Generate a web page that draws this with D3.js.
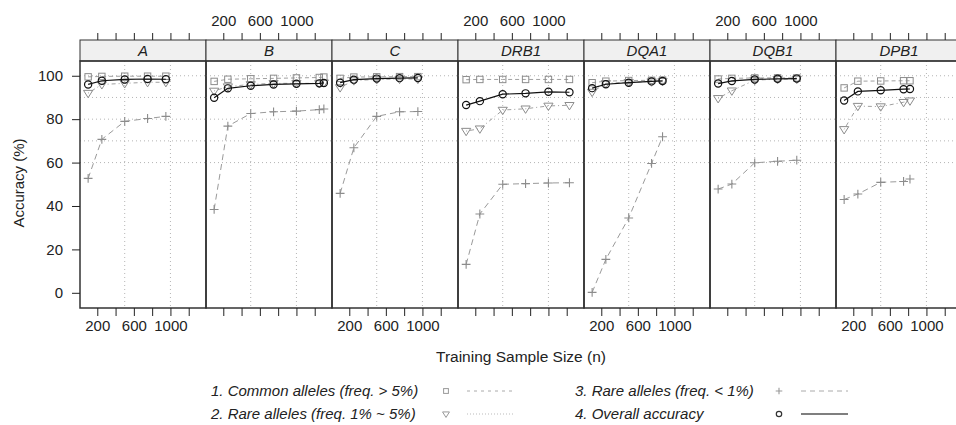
<!DOCTYPE html>
<html>
<head>
<script type="text/javascript" src="https://cdn.jsdelivr.net/npm/d3@7/dist/d3.min.js"></script>
<style>
  body { margin: 0; background: #fff; }
  text { font-family: "Liberation Sans", Arial, sans-serif; fill: #222; }
</style>
</head>
<body>
<script type="text/javascript">
// HLA loci, one panel each
var loci = ["A", "B", "C", "DRB1", "DQA1", "DQB1", "DPB1"];

// training sample sizes per locus
var sampleSize = [
  [100, 250, 500, 750, 950],
  [100, 250, 500, 750, 1000, 1250, 1300],
  [100, 250, 500, 750, 950],
  [100, 250, 500, 750, 1000, 1230],
  [100, 250, 500, 750, 870],
  [100, 250, 500, 750, 960],
  [100, 250, 500, 750, 820]
];

// 1. common alleles (freq > 5%)
var commonAlleles = [
  [99.5, 99.7, 99.8, 99.8, 99.8],
  [97.4, 98.4, 98.6, 98.8, 99.0, 99.2, 99.4],
  [98.8, 99.4, 99.5, 99.6, 99.6],
  [98.2, 98.3, 98.3, 98.3, 98.3, 98.3],
  [96.8, 97.5, 97.8, 97.9, 98.0],
  [98.5, 98.8, 99.0, 99.0, 99.0],
  [94.4, 97.5, 97.6, 97.7, 97.7]
];

// 2. rare alleles (freq 1% ~ 5%)
var rareAlleles = [
  [92.0, 96.0, 96.5, 97.0, 97.0],
  [93.0, 95.0, 96.0, 96.5, 96.5, 96.5, 96.8],
  [94.6, 97.8, 98.3, 98.5, 98.5],
  [74.5, 75.6, 84.2, 84.8, 86.1, 86.4],
  [92.5, 96.5, 97.0, 97.3, 97.5],
  [89.6, 93.1, 98.0, 98.4, 98.5],
  [75.3, 86.0, 85.8, 87.8, 88.5]
];

// 3. rare alleles (freq < 1%)
var veryRareAlleles = [
  [52.7, 70.7, 79.0, 80.3, 81.3],
  [38.4, 76.8, 82.6, 83.4, 83.7, 84.4, 84.7],
  [45.8, 66.8, 81.3, 83.4, 83.5],
  [13.1, 36.3, 50.0, 50.3, 50.6, 50.7],
  [0.2, 15.4, 34.5, 59.6, 71.9],
  [47.8, 50.1, 59.9, 60.6, 61.1],
  [43.0, 45.5, 50.9, 51.3, 52.4]
];

// 4. overall accuracy
var overallAccuracy = [
  [96.0, 97.7, 98.3, 98.5, 98.4],
  [89.9, 94.2, 95.4, 96.0, 96.3, 96.5, 96.7],
  [96.8, 98.2, 98.7, 98.9, 99.0],
  [86.5, 88.3, 91.5, 91.9, 92.6, 92.4],
  [94.3, 96.1, 96.8, 97.4, 97.6],
  [96.4, 97.6, 98.3, 98.6, 98.7],
  [88.6, 92.8, 93.3, 93.8, 93.9]
];

var xTicks = [200, 400, 600, 800, 1000, 1200];
var xTickLabels = [200, 600, 1000];
var yTicks = [0, 20, 40, 60, 80, 100];
var xGrid = [500, 1000];
var yGrid = [60, 70, 80, 90, 100];

var legendLabels = [
  "1. Common alleles (freq. > 5%)",
  "2. Rare alleles (freq. 1% ~ 5%)",
  "3. Rare alleles (freq. < 1%)",
  "4. Overall accuracy"
];

function myFunction() {
  var width = 956, height = 425;
  var panelLeft = 80, panelWidth = 126;
  var stripTop = 40, stripBottom = 61, panelBottom = 308;
  var grey = "#8c8c8c";

  var svg = d3.select("body").append("svg")
    .attr("width", width)
    .attr("height", height)
    .attr("id", "chart");

  var y = d3.scaleLinear().domain([-7, 106.8]).range([panelBottom, stripBottom]);

  var series = [
    { values: commonAlleles, symbol: "square", dash: "4,3", color: grey, lineColor: "#a0a0a0", width: 1 },
    { values: rareAlleles, symbol: "triangle", dash: "1,3,4,3", color: grey, lineColor: "#a0a0a0", width: 1 },
    { values: veryRareAlleles, symbol: "plus", dash: "6,4", color: grey, lineColor: "#9a9a9a", width: 1 },
    { values: overallAccuracy, symbol: "circle", dash: null, color: "#111", lineColor: "#111", width: 1.2 }
  ];

  loci.forEach(function (locus, i) {
    var left = panelLeft + panelWidth * i;
    var x = d3.scaleLinear().domain([11, 1389]).range([left, left + panelWidth]);
    var g = svg.append("g").attr("class", "panel");

    // grid
    xGrid.forEach(function (v) {
      g.append("line").attr("x1", x(v)).attr("x2", x(v))
        .attr("y1", stripBottom).attr("y2", panelBottom)
        .attr("style", "stroke:#b5b5b5;stroke-width:1;stroke-dasharray:1,3");
    });
    yGrid.forEach(function (v) {
      g.append("line").attr("x1", left).attr("x2", left + panelWidth)
        .attr("y1", y(v)).attr("y2", y(v))
        .attr("style", "stroke:#b5b5b5;stroke-width:1;stroke-dasharray:1,3");
    });

    // series lines + symbols
    series.forEach(function (s) {
      var pts = sampleSize[i].map(function (n, k) { return [n, s.values[i][k]]; });
      var line = d3.line().x(function (d) { return x(d[0]); }).y(function (d) { return y(d[1]); });
      g.append("path").attr("d", line(pts))
        .attr("fill", "none").attr("stroke", s.lineColor)
        .attr("stroke-width", s.width)
        .attr("stroke-dasharray", s.dash);
      pts.forEach(function (d) {
        addSymbol(g, s.symbol, x(d[0]), y(d[1]), s.color);
      });
    });

    // strip
    g.append("rect").attr("x", left).attr("y", stripTop)
      .attr("width", panelWidth).attr("height", stripBottom - stripTop)
      .attr("style", "fill:#f0f0f0;stroke:#333;stroke-width:1");
    g.append("text").attr("x", left + panelWidth / 2).attr("y", stripBottom - 5)
      .attr("text-anchor", "middle").attr("font-style", "italic")
      .attr("font-size", "15px").text(locus);

    // panel box
    g.append("rect").attr("x", left).attr("y", stripBottom)
      .attr("width", panelWidth).attr("height", panelBottom - stripBottom)
      .attr("style", "fill:none;stroke:#333;stroke-width:1.5");

    // x axes: labels alternate bottom / top
    var labelBottom = (i % 2 === 0);
    var fmt = function (on) {
      return function (d) { return on && xTickLabels.indexOf(d) >= 0 ? d : ""; };
    };
    var bottom = svg.append("g").attr("transform", "translate(0," + panelBottom + ")")
      .call(d3.axisBottom(x).tickValues(xTicks).tickSize(8).tickPadding(4).tickFormat(fmt(labelBottom)));
    var top = svg.append("g").attr("transform", "translate(0," + stripTop + ")")
      .call(d3.axisTop(x).tickValues(xTicks).tickSize(7).tickPadding(7).tickFormat(fmt(!labelBottom)));
    [bottom, top].forEach(function (a) {
      a.select(".domain").remove();
      a.selectAll("line").attr("stroke", "#222");
      a.selectAll("text").attr("font-size", "15px").attr("fill", "#222")
        .attr("font-family", "Liberation Sans, Arial, sans-serif");
    });
  });

  // y axis
  var ya = svg.append("g").attr("transform", "translate(" + panelLeft + ",0)")
    .call(d3.axisLeft(y).tickValues(yTicks).tickSize(8).tickPadding(9));
  ya.select(".domain").remove();
  ya.selectAll("line").attr("stroke", "#222");
  ya.selectAll("text").attr("font-size", "15px").attr("fill", "#222")
    .attr("font-family", "Liberation Sans, Arial, sans-serif");

  // axis titles
  svg.append("text").attr("x", 521).attr("y", 362)
    .attr("text-anchor", "middle").attr("font-size", "15.5px")
    .text("Training Sample Size (n)");
  svg.append("text").attr("transform", "translate(24,183) rotate(-90)")
    .attr("text-anchor", "middle").attr("font-size", "15px")
    .text("Accuracy (%)");

  // legend
  var legendCols = [
    { textX: 211, symX: 446, lineX1: 467, lineX2: 513 },
    { textX: 575, symX: 779, lineX1: 801, lineX2: 848 }
  ];
  var legendRows = [391, 414];
  var legendDash = ["3,4", "1,2,1,2", "5,4", null];
  var legendColor = ["#aaa", "#bbb", "#aaa", "#555"];
  legendLabels.forEach(function (lab, k) {
    var col = legendCols[Math.floor(k / 2)];
    var ry = legendRows[k % 2];
    svg.append("text").attr("x", col.textX).attr("y", ry + 5)
      .attr("font-style", "italic").attr("font-size", "15px").text(lab);
    addSymbol(svg, series[k].symbol, col.symX, ry, k === 3 ? "#333" : "#999", 0.75);
    svg.append("line").attr("x1", col.lineX1).attr("x2", col.lineX2)
      .attr("y1", ry).attr("y2", ry)
      .attr("stroke", legendColor[k]).attr("stroke-width", k === 3 ? 1.5 : 1)
      .attr("stroke-dasharray", legendDash[k]);
  });
}

function addSymbol(g, type, cx, cy, color, scale) {
  var s = scale || 1;
  if (type === "circle") {
    g.append("circle").attr("cx", cx).attr("cy", cy).attr("r", 3.6 * s)
      .attr("fill", "none").attr("stroke", color).attr("stroke-width", 1.2);
  } else if (type === "square") {
    var h = 3.2 * s;
    g.append("rect").attr("x", cx - h).attr("y", cy - h).attr("width", 2 * h).attr("height", 2 * h)
      .attr("fill", "none").attr("stroke", color).attr("stroke-width", 1);
  } else if (type === "triangle") {
    var r = 4.6 * s;
    var pts = (cx - r) + "," + (cy - r * 0.6) + " " + (cx + r) + "," + (cy - r * 0.6) + " " + cx + "," + (cy + r);
    g.append("polygon").attr("points", pts)
      .attr("fill", "none").attr("stroke", color).attr("stroke-width", 1);
  } else if (type === "plus") {
    var p = 4.4 * s;
    g.append("path").attr("d", "M" + (cx - p) + "," + cy + "H" + (cx + p) + "M" + cx + "," + (cy - p) + "V" + (cy + p))
      .attr("stroke", color).attr("stroke-width", 1.1);
  }
}

myFunction();
</script>
</body>
</html>
